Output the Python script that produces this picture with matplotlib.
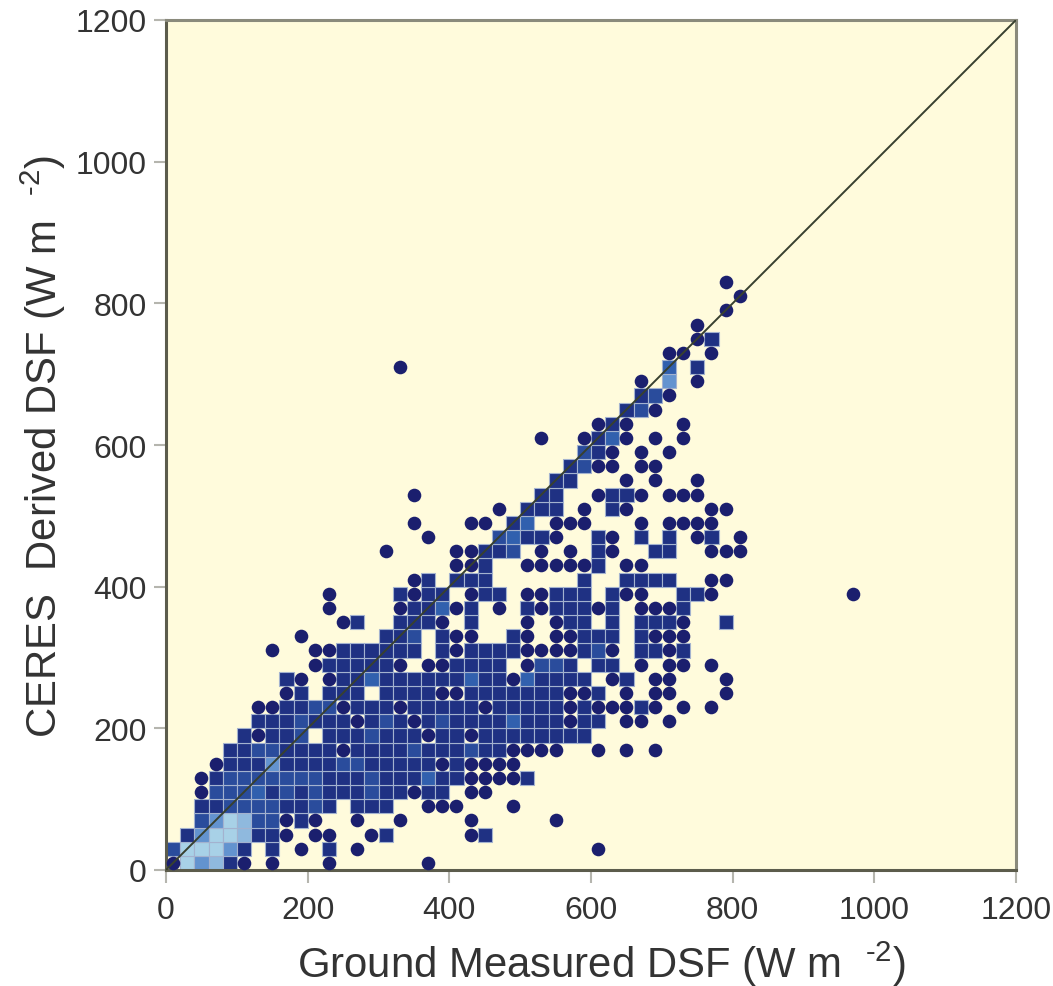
import numpy as np
import matplotlib
matplotlib.use('Agg')
import matplotlib.pyplot as plt

plt.rcParams['font.family'] = ['Liberation Sans', 'DejaVu Sans']
plt.rcParams['mathtext.fontset'] = 'custom'
plt.rcParams['mathtext.rm'] = 'Liberation Sans'
plt.rcParams['mathtext.default'] = 'regular'

# Data: one string per 20 W m-2 row, bottom row first, spaces only for reading
# . empty, 1 single point (circle), 2-7 density class of the bin (square)
density_rows = [
    "175621.1.. .1......1.",
    "377752.2.1 .2.1...... .......... 1",
    ".25776221. 11..12.... .12",
    "..35763312 1..1..1... .1.....1",
    "..22333322 32.222..11 1...1",
    "..13334232 3222322122 .11",
    "..12333333 3222322242 211112",
    "...1222522 2233222221 21111",
    "....223322 2212222322 23221111.. 1.1.1",
    ".....21223 .222322212 2122222222",
    "......2223 2221232123 2222422212 2.11.1",
    "......1122 3312221222 2212222212 11121.1.1",
    "........12 .222.22221 1222222211 2.1.11...1",
    "........21 .122422222 2422142222 .12.11...1",
    ".......... 1222221.11 2222.1332. 22.1.11.1",
    ".......1.. 11222222.2 1222211112 31.2212",
    ".........1 .....223.2 11..21.112 22.2111",
    ".......... ..12..2221 .2...1.122 .2.2221..2",
    ".......... .1....1224 12.1.21222 12.1112",
    ".......... .1....2122 .122.11222 .211..221. ........1",
    ".......... .......12. 222......2 ..2222..11",
    ".......... .......... 112..11111 2.11",
    ".......... .....1.... 11223.1.1. 21..22..11 1",
    ".......... ........1. ...34221.. 21.2.2.12. 1",
    ".......... .......1.. .11.24.111 ...1.1111",
    ".......... .......... ...1.222.1 .21.....11",
    ".......... .......1.. ......22.. 1221.111",
    ".......... .......... .......22. ..1.1..1",
    ".......... .......... ........23 11.11",
    ".......... .......... .........3 21.1.1",
    ".......... .......... ......1..1 241.1.1",
    ".......... .......... .......... 121...1",
    ".......... .......... .......... ..231",
    ".......... .......... .......... ...231",
    ".......... .......... .......... ...1.5.1",
    ".......... ......1... .......... .....4.2",
    ".......... .......... .......... .....11.1",
    ".......... .......... .......... .......12",
    ".......... .......... .......... .......1",
    ".......... .......... .......... .........1",
    ".......... .......... .......... .......... 1",
    ".......... .......... .......... .........1",
]
bin_width = 20
axis_max = 1200
tick_values = [0, 200, 400, 600, 800, 1000, 1200]
class_colors = {2: '#1f3183', 3: '#2a4c9c', 4: '#3160ae', 5: '#6393cf',
                6: '#8fb9de', 7: '#a8d1e7'}

n_bins = axis_max // bin_width
grid = np.zeros((n_bins, n_bins), dtype=int)
for j, row in enumerate(density_rows):
    for i, ch in enumerate(row.replace(' ', '')):
        if ch != '.':
            grid[j, i] = int(ch)

edges = np.arange(0, axis_max + bin_width, bin_width)
centers = edges[:-1] + bin_width / 2

fig = plt.figure(figsize=(10.53, 9.87), dpi=100)
ax = fig.add_axes([166 / 1053, 1 - 871 / 987, 850 / 1053, 850 / 987])
ax.set_facecolor('#fffbdc')

# squares for bins holding several points, light lines between the bins
rows_s, cols_s = np.nonzero(grid >= 2)
ax.bar(centers[cols_s], bin_width, bottom=edges[rows_s], width=bin_width,
       color=[class_colors[k] for k in grid[rows_s, cols_s]],
       edgecolor='#a3b2cf', linewidth=0.8)

# circles for bins holding one point
rows_1, cols_1 = np.nonzero(grid == 1)
ax.scatter(centers[cols_1], centers[rows_1], s=96, color='#1b1f6e',
           linewidths=0, zorder=3)

ax.plot([0, axis_max], [0, axis_max], color='#38402f', lw=1.4, zorder=4)

ax.set_xlim(0, axis_max)
ax.set_ylim(0, axis_max)
ax.set_xticks(tick_values)
ax.set_yticks(tick_values)
ax.tick_params(length=9, width=1.5, color='#b5b5ae', labelsize=23,
               labelcolor='#333333')
ax.tick_params(axis='x', pad=9)
ax.tick_params(axis='y', pad=5)
ax.spines['left'].set_color('#5c5c4c')
ax.spines['bottom'].set_color('#5c5c4c')
ax.spines['top'].set_color('#8a8a7c')
ax.spines['right'].set_color('#8a8a7c')
for spine in ax.spines.values():
    spine.set_linewidth(2.2)

ax.set_xlabel(r'Ground Measured DSF (W m  $^{\text{-2}}$)', fontsize=30.2,
              color='#333333', labelpad=9.5)
ax.xaxis.label.set_x(0.512)
ax.set_ylabel(r'CERES  Derived DSF (W m  $^{\text{-2}}$)', fontsize=30.2,
              color='#333333', labelpad=5)

fig.savefig('out.png', dpi=100)
